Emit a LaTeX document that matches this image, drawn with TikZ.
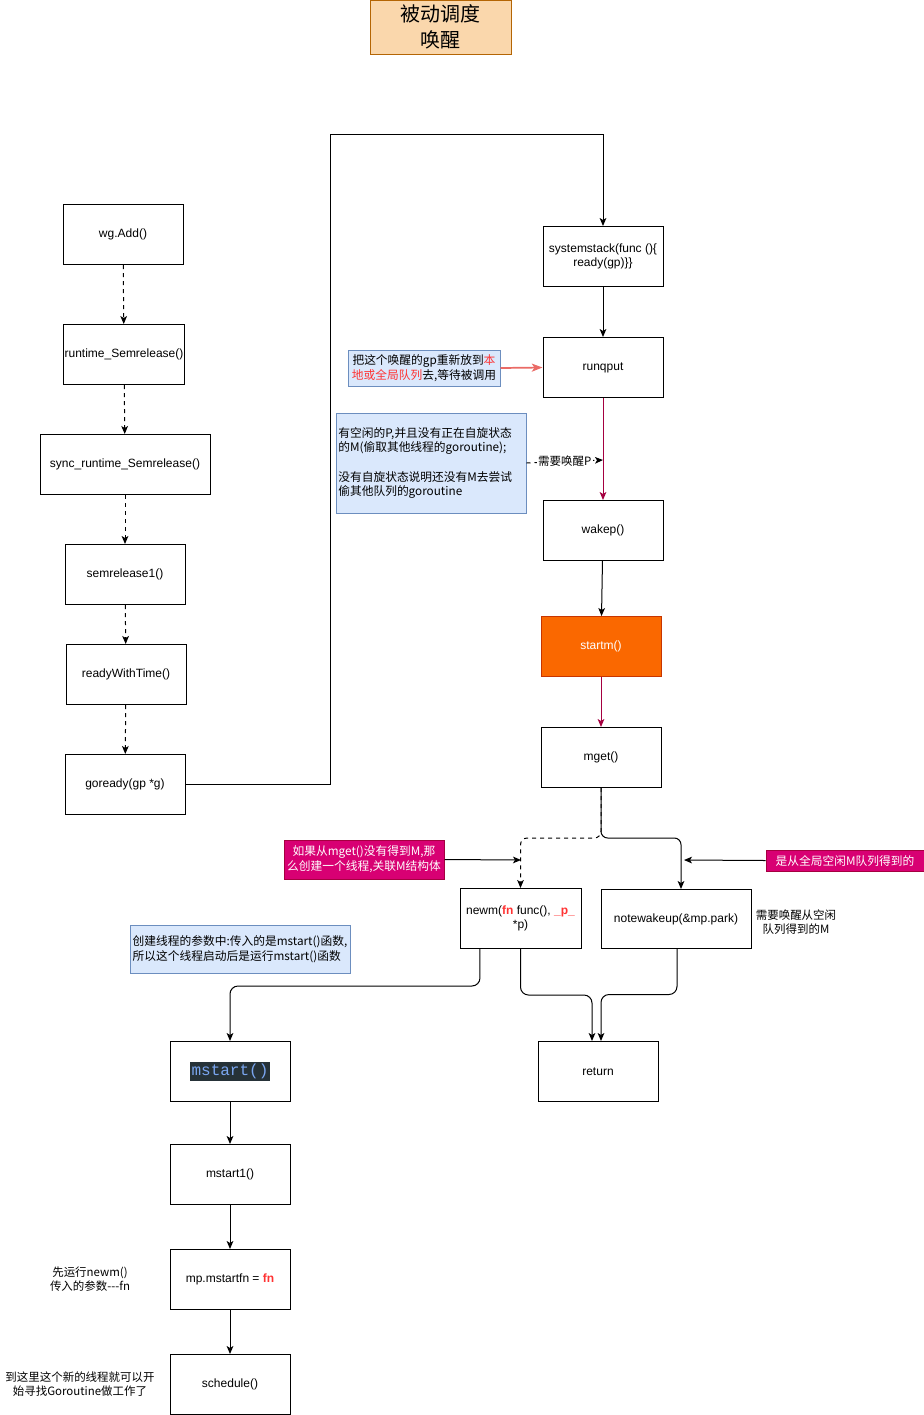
\documentclass[tikz,border=0pt]{standalone}
\usepackage{fontspec}
\setmainfont{Liberation Sans}
\setmonofont{Liberation Mono}
\newfontfamily\cjk{Noto Sans CJK SC}
\usetikzlibrary{arrows.meta}
\definecolor{titlefill}{HTML}{FAD7AC}
\definecolor{titledraw}{HTML}{B46504}
\definecolor{notefill}{HTML}{DAE8FC}
\definecolor{notedraw}{HTML}{6C8EBF}
\definecolor{magfill}{HTML}{D80073}
\definecolor{magdraw}{HTML}{A50040}
\definecolor{orfill}{HTML}{FA6800}
\definecolor{ordraw}{HTML}{C73500}
\definecolor{txtred}{HTML}{FF3333}
\definecolor{arrred}{HTML}{EA6B66}
\definecolor{darkmag}{HTML}{A50040}
\definecolor{codebg}{HTML}{263238}
\definecolor{codeblue}{HTML}{7AA6F0}
\begin{document}
\begin{tikzpicture}[x=0.75pt,y=-0.75pt,
  box/.style={draw=black,line width=0.75pt,fill=white,minimum width=90pt,minimum height=45pt,inner sep=1pt,align=center,font=\fontsize{9}{11}\selectfont},
  note/.style={draw=notedraw,fill=notefill,line width=0.75pt,inner sep=2pt,font=\cjk\fontsize{8.8}{11}\selectfont},
  mag/.style={draw=magdraw,fill=magfill,text=white,line width=0.75pt,inner sep=1pt,align=center,font=\cjk\fontsize{8.8}{11.5}\selectfont},
  plain/.style={align=center,font=\cjk\fontsize{8.6}{11}\selectfont},
  arr/.style={-{Stealth[length=6pt,width=5pt,inset=1.5pt]},line width=0.75pt}
]
\useasboundingbox (0,0) rectangle (924,1415);

% title
\node[draw=titledraw,fill=titlefill,line width=0.75pt,minimum width=105.75pt,minimum height=40.5pt,align=center,font=\cjk\fontsize{15}{19}\selectfont,inner sep=0pt] (title) at (440.5,27) {被动调度\\唤醒};

% left column
\node[box] (wg) at (123,234.5) {wg.Add()};
\node[box] (rs) at (124,354.5) {runtime\_Semrelease()};
\node[box,minimum width=127.5pt] (sync) at (125,464.5) {sync\_runtime\_Semrelease()};
\node[box] (sem1) at (125,574.5) {semrelease1()};
\node[box] (rwt) at (126,674.5) {readyWithTime()};
\node[box] (gor) at (125,784.5) {goready(gp *g)};

% right column
\node[box] (sys) at (603,256.5) {systemstack(func ()\{\\ready(gp)\}\}};
\node[box] (rq) at (603,367.5) {runqput};
\node[box] (wake) at (603,530.5) {wakep()};
\node[box,fill=orfill,draw=ordraw,text=white] (startm) at (601,646.5) {startm()};
\node[box] (mget) at (601,757.5) {mget()};
\node[box,minimum width=90.75pt] (newm) at (520.5,918.5) {newm(\textcolor{txtred}{\textbf{fn}} func(), \textcolor{txtred}{\textbf{\_p\_}}\\*p)};
\node[box,minimum width=112.5pt,minimum height=44.25pt] (nwk) at (676,919) {notewakeup(\&mp.park)};
\node[box] (ret) at (598,1071.5) {return};

% bottom left column
\node[box] (ms) at (230,1071.5) {\setlength\fboxsep{1.5pt}\colorbox{codebg}{\textcolor{codeblue}{\ttfamily\fontsize{12}{14}\selectfont mstart()}}};
\node[box] (ms1) at (230,1174.5) {mstart1()};
\node[box] (mfn) at (230,1279.5) {mp.mstartfn = \textcolor{txtred}{\textbf{fn}}};
\node[box] (sch) at (230,1384.5) {schedule()};

% notes
\node[note,minimum width=114pt,minimum height=27pt,align=center,inner sep=1pt] (n1) at (424,368) {把这个唤醒的gp重新放到\textcolor{txtred}{本}\\\textcolor{txtred}{地或全局队列}去,等待被调用};
\node[note,minimum width=142.5pt,minimum height=75pt,text width=139pt,align=left,inner sep=1.5pt] (n2) at (431,463) {有空闲的P,并且没有正在自旋状态\\的M(偷取其他线程的goroutine);\\[11pt]没有自旋状态说明还没有M去尝试\\偷其他队列的goroutine};
\node[mag,minimum width=120pt,minimum height=29.25pt] (n3) at (364,859.5) {如果从mget()没有得到M,那\\么创建一个线程,关联M结构体};
\node[mag,minimum width=118.5pt,minimum height=15.75pt] (n4) at (845,860.5) {是从全局空闲M队列得到的};
\node[note,minimum width=165pt,minimum height=36pt,align=left,inner sep=1pt] (n5) at (240,949) {创建线程的参数中:传入的是mstart()函数,\\所以这个线程启动后是运行mstart()函数};

% free texts
\node[plain] (t1) at (796,922) {需要唤醒从空闲\\队列得到的M};
\node[plain] (t2) at (90,1279) {先运行newm()\\传入的参数---fn};
\node[plain] (t3) at (80,1384) {到这里这个新的线程就可以开\\始寻找Goroutine做工作了};

% coordinates for free ends
\coordinate (p1) at (603,460);
\coordinate (c1) at (521,860);
\coordinate (c2) at (684,860);

% left chain
\draw[arr,dashed] (wg) -- (rs);
\draw[arr,dashed] (rs) -- (sync);
\draw[arr,dashed] (sync) -- (sem1);
\draw[arr,dashed] (sem1) -- (rwt);
\draw[arr,dashed] (rwt) -- (gor);

% goready -> systemstack
\draw[arr] (gor.east) -- (330,784.5) -- (330,134) -| (sys.north);

\draw[arr] (sys) -- (rq);
\draw[arr,darkmag] (rq) -- (wake);
\draw[arr] (wake) -- (startm);
\draw[arr,darkmag] (startm) -- (mget);

% notes arrows
\draw[-{Stealth[length=8pt,width=6pt,inset=2pt]},line width=1.3pt,arrred] (n1.east) -- (rq.west);
\draw[arr,dashed] (n2.east) -- (p1) node[midway,fill=white,inner sep=1pt,font=\cjk\fontsize{8.6}{10}\selectfont] {需要唤醒P};
\draw[arr] (n3.east) -- (c1);
\draw[arr] (n4.west) -- (c2);

% mget split
\draw[arr,dashed,rounded corners=5pt] (mget.south) -- (601,838) -| (newm.north);
\draw[arr,rounded corners=5pt] (mget.south) -- (601,838) -| ([xshift=3.75pt]nwk.north);

% newm / notewakeup outputs
\draw[arr,rounded corners=6pt] ([xshift=-30.4pt]newm.south) -- ++(0,37) -| (ms.north);
\draw[arr,rounded corners=6pt] (newm.south) -- ++(0,46) -| ([xshift=-4.5pt]ret.north);
\draw[arr,rounded corners=6pt] ([xshift=0.75pt]nwk.south) -- ++(0,45.5) -| ([xshift=2.25pt]ret.north);

% bottom chain
\draw[arr] (ms) -- (ms1);
\draw[arr] (ms1) -- (mfn);
\draw[arr] (mfn) -- (sch);
\end{tikzpicture}
\end{document}
